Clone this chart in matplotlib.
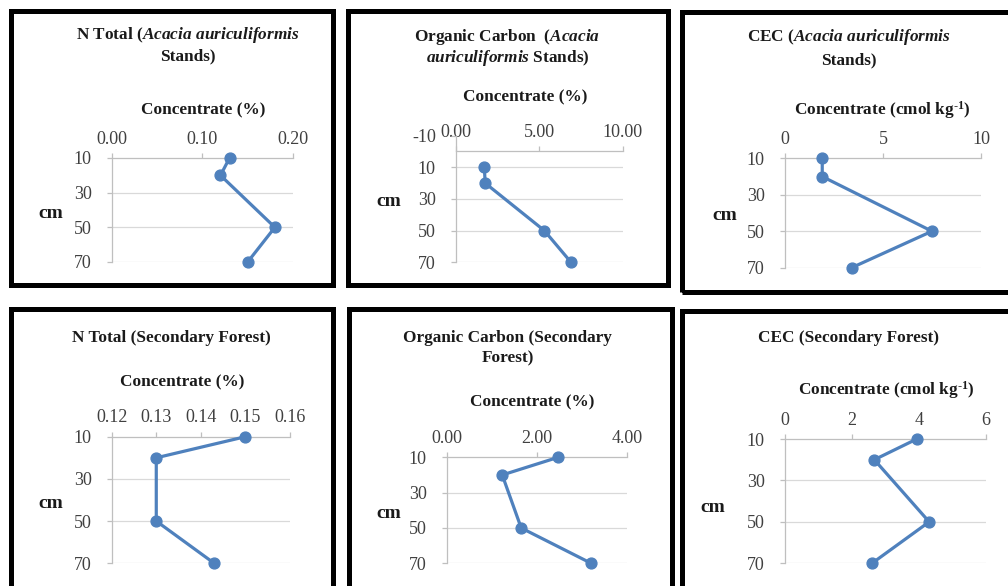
import matplotlib
matplotlib.use("Agg")
import matplotlib.pyplot as plt
from matplotlib.patches import Rectangle
from matplotlib.ticker import FormatStrFormatter

plt.rcParams['font.family'] = ['Liberation Serif', 'DejaVu Serif']
plt.rcParams['mathtext.fontset'] = 'custom'
plt.rcParams['mathtext.it'] = 'Liberation Serif:italic:bold'
plt.rcParams['mathtext.bf'] = 'Liberation Serif:bold'
plt.rcParams['mathtext.rm'] = 'Liberation Serif:bold'
plt.rcParams['axes.unicode_minus'] = False

W, H = 1008, 586

# soil depth (cm) and concentrations
depth = [10, 20, 50, 70]
depth_ticks = [10, 30, 50, 70]
depth_ticks_oc = [-10, 10, 30, 50, 70]

n_total_acacia = [0.13, 0.12, 0.18, 0.15]
org_c_acacia = [1.70, 1.75, 5.30, 6.90]
cec_acacia = [1.9, 1.9, 7.5, 3.4]
n_total_secondary = [0.150, 0.130, 0.130, 0.143]
org_c_secondary = [2.47, 1.23, 1.65, 3.20]
cec_secondary = [3.94, 2.67, 4.31, 2.60]

ticks_n_acacia = [0.00, 0.10, 0.20]
ticks_oc_acacia = [0.00, 5.00, 10.00]
ticks_cec_acacia = [0, 5, 10]
ticks_n_secondary = [0.12, 0.13, 0.14, 0.15, 0.16]
ticks_oc_secondary = [0.00, 2.00, 4.00]
ticks_cec_secondary = [0, 2, 4, 6]

BLUE = '#4F81BD'
GRID = '#D9D9D9'
AXIS = '#BFBFBF'
TXT = '#1a1a1a'
TICKTXT = '#404040'

fig = plt.figure(figsize=(W / 100, H / 100), dpi=100)


def fx(px):
    return px / W


def fy(py):
    return 1 - py / H


def box(x0, y0, x1, y1):
    fig.patches.append(Rectangle((fx(x0), fy(y1)), fx(x1) - fx(x0), fy(y0) - fy(y1),
                                 transform=fig.transFigure, fill=False,
                                 edgecolor='black', linewidth=3.6, zorder=5))


def panel(px0, px1, py_top, py_bot, values, xticks, fmt, yticks, cross):
    ax = fig.add_axes([fx(px0), fy(py_bot), fx(px1) - fx(px0), fy(py_top) - fy(py_bot)])
    ax.set_xlim(xticks[0], xticks[-1])
    ax.set_ylim(70, yticks[0])
    ax.set_xticks(xticks)
    ax.set_yticks(yticks)
    ax.xaxis.set_major_formatter(FormatStrFormatter(fmt))
    ax.xaxis.tick_top()
    ax.spines['top'].set_position(('data', cross))
    for s in ['bottom', 'right']:
        ax.spines[s].set_visible(False)
    for s in ['top', 'left']:
        ax.spines[s].set_color(AXIS)
        ax.spines[s].set_linewidth(0.9)
    for t in yticks:
        if t > cross:
            ax.axhline(t, color=GRID, lw=0.9, zorder=0)
    ax.tick_params(axis='x', colors=AXIS, labelcolor=TICKTXT, labelsize=13,
                   length=3.5, width=0.9, pad=4)
    ax.tick_params(axis='y', colors=AXIS, labelcolor=TICKTXT, labelsize=13,
                   length=3.5, width=0.9, pad=11)
    ax.plot(values, depth, color=BLUE, lw=2.3, marker='o', markersize=7.8,
            clip_on=False, zorder=3)
    ax.patch.set_alpha(0)
    return ax


# boxes
box(10.8, 10.8, 332.5, 285)
box(347.5, 11, 668, 285)
box(682, 11.5, 1015, 292)
box(10.8, 309, 332.5, 600)
box(349, 309, 672, 600)
box(682, 310.5, 1015, 600)

panel(111.7, 293, 158, 262, n_total_acacia, ticks_n_acacia, '%.2f', depth_ticks, 10)
panel(456, 622.7, 135.6, 262.3, org_c_acacia, ticks_oc_acacia, '%.2f', depth_ticks_oc, 0)
panel(785, 981, 158.3, 267.7, cec_acacia, ticks_cec_acacia, '%d', depth_ticks, 10)
panel(111.7, 290, 436.7, 563.3, n_total_secondary, ticks_n_secondary, '%.2f', depth_ticks, 10)
panel(446.7, 627.3, 457.3, 563.3, org_c_secondary, ticks_oc_secondary, '%.2f', depth_ticks, 10)
panel(785, 985.7, 439, 563.3, cec_secondary, ticks_cec_secondary, '%d', depth_ticks, 10)


def label(x, y, s, size=12.4):
    fig.text(fx(x), fy(y), s, ha='center', va='center', fontsize=size,
             fontweight='bold', color=TXT)


# titles
label(188, 35, r'N Total ($\mathit{Acacia\ auriculiformis}$')
label(188, 56, 'Stands)')
label(507.5, 37, r'Organic Carbon  ($\mathit{Acacia}$')
label(507.5, 58, r'$\mathit{auriculiformis}$ Stands)')
label(849, 37, r'CEC ($\mathit{Acacia\ auriculiformis}$')
label(849, 60, 'Stands)')
label(171, 338, 'N Total (Secondary Forest)')
label(507.5, 338, 'Organic Carbon (Secondary')
label(507.5, 358, 'Forest)')
label(849, 338, 'CEC (Secondary Forest)')

# axis titles
label(203, 110, 'Concentrate (%)')
label(525, 97, 'Concentrate (%)')
label(882.5, 110, r'Concentrate (cmol kg$^{\text{-1}}$)')
label(182, 382, 'Concentrate (%)')
label(532, 402, 'Concentrate (%)')
label(886, 390, r'Concentrate (cmol kg$^{\text{-1}}$)')

label(51, 213, 'cm', 14)
label(389, 202, 'cm', 14)
label(725, 216, 'cm', 14)
label(51, 503, 'cm', 14)
label(389, 513, 'cm', 14)
label(713, 507, 'cm', 14)

fig.savefig('out.png', dpi=100)
